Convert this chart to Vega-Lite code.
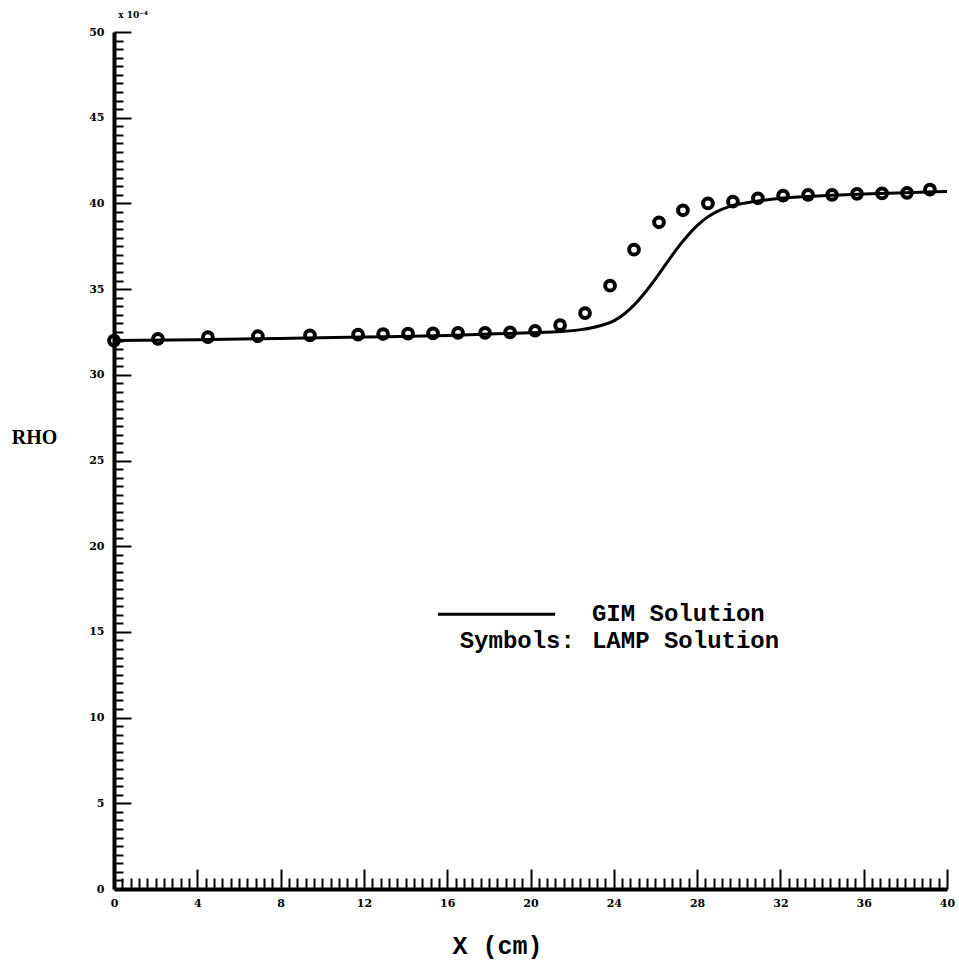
{
  "$schema": "https://vega.github.io/schema/vega-lite/v6.json",
  "autosize": {"type": "none"},
  "width": 833,
  "height": 857,
  "padding": {"left": 114, "top": 32, "right": 12, "bottom": 71},
  "background": "white",
  "config": {"view": {"stroke": null}},
  "datasets": {
    "gim": [
      {"x": 0, "rho": 32.0}, {"x": 4, "rho": 32.05}, {"x": 8, "rho": 32.12}, {"x": 12, "rho": 32.2},
      {"x": 16, "rho": 32.3}, {"x": 18, "rho": 32.38}, {"x": 20, "rho": 32.45}, {"x": 21.5, "rho": 32.53},
      {"x": 22.5, "rho": 32.65}, {"x": 23.3, "rho": 32.85}, {"x": 24.0, "rho": 33.15}, {"x": 24.5, "rho": 33.55},
      {"x": 25.0, "rho": 34.1}, {"x": 25.5, "rho": 34.8}, {"x": 26.0, "rho": 35.6}, {"x": 26.5, "rho": 36.45},
      {"x": 27.0, "rho": 37.3}, {"x": 27.5, "rho": 38.05}, {"x": 28.0, "rho": 38.7}, {"x": 28.5, "rho": 39.2},
      {"x": 29.0, "rho": 39.55}, {"x": 29.5, "rho": 39.8}, {"x": 30.2, "rho": 40.0}, {"x": 31.0, "rho": 40.15},
      {"x": 32.0, "rho": 40.3}, {"x": 34, "rho": 40.45}, {"x": 36, "rho": 40.55},
      {"x": 38, "rho": 40.62}, {"x": 40, "rho": 40.7}
    ],
    "lamp": [
      {"x": 0, "rho": 32.0}, {"x": 2.11, "rho": 32.1}, {"x": 4.51, "rho": 32.2}, {"x": 6.91, "rho": 32.25},
      {"x": 9.41, "rho": 32.3}, {"x": 11.72, "rho": 32.35}, {"x": 12.92, "rho": 32.38}, {"x": 14.12, "rho": 32.4},
      {"x": 15.32, "rho": 32.42}, {"x": 16.52, "rho": 32.45}, {"x": 17.82, "rho": 32.45}, {"x": 19.02, "rho": 32.47},
      {"x": 20.22, "rho": 32.57}, {"x": 21.42, "rho": 32.9}, {"x": 22.62, "rho": 33.6}, {"x": 23.82, "rho": 35.2},
      {"x": 24.97, "rho": 37.3}, {"x": 26.17, "rho": 38.9}, {"x": 27.32, "rho": 39.6}, {"x": 28.52, "rho": 40.0},
      {"x": 29.72, "rho": 40.1}, {"x": 30.92, "rho": 40.3}, {"x": 32.13, "rho": 40.45}, {"x": 33.33, "rho": 40.5},
      {"x": 34.48, "rho": 40.5}, {"x": 35.68, "rho": 40.56}, {"x": 36.88, "rho": 40.58}, {"x": 38.08, "rho": 40.62},
      {"x": 39.18, "rho": 40.8}
    ],
    "legendLine": [{"x": 15.56, "x2": 21.18, "rho": 16.03}],
    "legendText": [
      {"x": 22.95, "rho": 16.03, "t": "GIM Solution"},
      {"x": 16.6, "rho": 14.45, "t": "Symbols:"},
      {"x": 22.95, "rho": 14.45, "t": "LAMP Solution"}
    ],
    "scaleNote": [{"x": 0.2, "rho": 51.0, "t": "x 10⁻⁴"}]
  },
  "layer": [
    {
      "data": {"name": "gim"},
      "mark": {"type": "line", "color": "black", "strokeWidth": 3, "interpolate": "monotone"},
      "encoding": {
        "x": {
          "field": "x", "type": "quantitative",
          "scale": {"domain": [0, 40], "nice": false, "zero": false},
          "axis": {
            "title": "X (cm)",
            "titleFont": "Liberation Mono", "titleFontWeight": "bold", "titleFontSize": 25,
            "titleColor": "black", "titleX": 383, "titleY": 56, "titleBaseline": "middle",
            "tickCount": 500,
            "values": [0,0.4,0.8,1.2,1.6,2,2.4,2.8,3.2,3.6,4,4.4,4.8,5.2,5.6,6,6.4,6.8,7.2,7.6,8,8.4,8.8,9.2,9.6,10,10.4,10.8,11.2,11.6,12,12.4,12.8,13.2,13.6,14,14.4,14.8,15.2,15.6,16,16.4,16.8,17.2,17.6,18,18.4,18.8,19.2,19.6,20,20.4,20.8,21.2,21.6,22,22.4,22.8,23.2,23.6,24,24.4,24.8,25.2,25.6,26,26.4,26.8,27.2,27.6,28,28.4,28.8,29.2,29.6,30,30.4,30.8,31.2,31.6,32,32.4,32.8,33.2,33.6,34,34.4,34.8,35.2,35.6,36,36.4,36.8,37.2,37.6,38,38.4,38.8,39.2,39.6,40],
            "labelExpr": "abs(datum.value - round(datum.value / 4) * 4) < 0.01 ? format(datum.value, 'd') : ''",
            "labelOverlap": false, "labelFlush": false,
            "labelFont": "DejaVu Serif", "labelFontWeight": "bold", "labelFontSize": 11, "labelColor": "black",
            "labelPadding": 28,
            "tickSize": {"condition": {"test": "abs(datum.value - round(datum.value / 4) * 4) < 0.01", "value": -20}, "value": -11},
            "tickWidth": 2, "tickColor": "black",
            "domainColor": "black", "domainWidth": 4, "grid": false
          }
        },
        "y": {
          "field": "rho", "type": "quantitative",
          "scale": {"domain": [0, 50], "nice": false},
          "axis": {
            "title": "RHO",
            "titleFont": "Liberation Serif", "titleFontWeight": "bold", "titleFontSize": 20,
            "titleColor": "black", "titleAngle": 0, "titleX": -80, "titleY": 405,
            "titleAlign": "center", "titleBaseline": "middle",
            "tickCount": 500,
            "values": [0,0.5,1,1.5,2,2.5,3,3.5,4,4.5,5,5.5,6,6.5,7,7.5,8,8.5,9,9.5,10,10.5,11,11.5,12,12.5,13,13.5,14,14.5,15,15.5,16,16.5,17,17.5,18,18.5,19,19.5,20,20.5,21,21.5,22,22.5,23,23.5,24,24.5,25,25.5,26,26.5,27,27.5,28,28.5,29,29.5,30,30.5,31,31.5,32,32.5,33,33.5,34,34.5,35,35.5,36,36.5,37,37.5,38,38.5,39,39.5,40,40.5,41,41.5,42,42.5,43,43.5,44,44.5,45,45.5,46,46.5,47,47.5,48,48.5,49,49.5,50],
            "labelExpr": "abs(datum.value - round(datum.value / 5) * 5) < 0.01 ? format(datum.value, 'd') : ''",
            "labelOverlap": false, "labelFlush": false,
            "labelFont": "DejaVu Serif", "labelFontWeight": "bold", "labelFontSize": 11, "labelColor": "black",
            "labelPadding": 27,
            "tickSize": {"condition": {"test": "abs(datum.value - round(datum.value / 5) * 5) < 0.01", "value": -17}, "value": -9},
            "tickWidth": 2, "tickColor": "black",
            "domainColor": "black", "domainWidth": 4, "grid": false
          }
        }
      }
    },
    {
      "data": {"name": "lamp"},
      "mark": {"type": "point", "shape": "circle", "filled": false, "color": "black", "size": 95, "strokeWidth": 4, "opacity": 1},
      "encoding": {
        "x": {"field": "x", "type": "quantitative"},
        "y": {"field": "rho", "type": "quantitative"}
      }
    },
    {
      "data": {"name": "legendLine"},
      "mark": {"type": "rule", "color": "black", "strokeWidth": 3},
      "encoding": {
        "x": {"field": "x", "type": "quantitative"},
        "x2": {"field": "x2"},
        "y": {"field": "rho", "type": "quantitative"}
      }
    },
    {
      "data": {"name": "legendText"},
      "mark": {"type": "text", "align": "left", "baseline": "middle", "font": "Liberation Mono", "fontWeight": "bold", "fontSize": 24, "color": "black"},
      "encoding": {
        "x": {"field": "x", "type": "quantitative"},
        "y": {"field": "rho", "type": "quantitative"},
        "text": {"field": "t"}
      }
    },
    {
      "data": {"name": "scaleNote"},
      "mark": {"type": "text", "align": "left", "baseline": "middle", "font": "DejaVu Serif", "fontWeight": "bold", "fontSize": 9, "color": "black"},
      "encoding": {
        "x": {"field": "x", "type": "quantitative"},
        "y": {"field": "rho", "type": "quantitative"},
        "text": {"field": "t"}
      }
    }
  ]
}
